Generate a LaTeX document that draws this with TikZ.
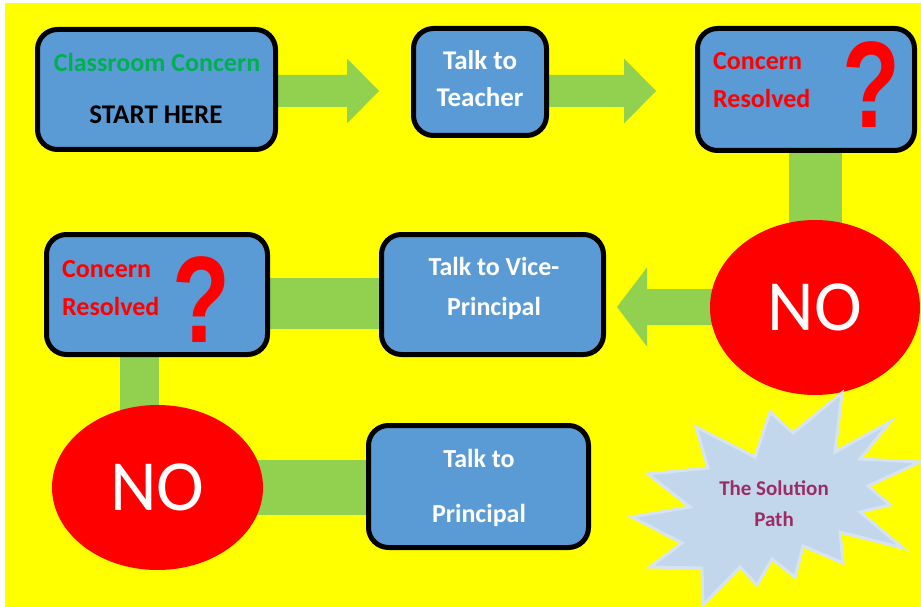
\documentclass[tikz,border=0pt]{standalone}
\usepackage{fontspec}
\setmainfont{Carlito}
\newfontfamily\qfont{Liberation Sans}
\usetikzlibrary{shapes.geometric,calc}
\definecolor{bgyellow}{HTML}{FFFF00}
\definecolor{boxblue}{HTML}{5B9BD5}
\definecolor{conngreen}{HTML}{92D050}
\definecolor{nored}{HTML}{FF0000}
\definecolor{titlegreen}{HTML}{00B050}
\definecolor{burstfill}{HTML}{C2D6EC}
\definecolor{burstline}{HTML}{D6E3F2}
\definecolor{pathtext}{HTML}{9B2D64}
\pgfdeclarelayer{bg}
\pgfsetlayers{bg,main}
\tikzset{
  stepbox/.style={draw=black, line width=5pt, fill=boxblue, rounded corners=20pt, inner sep=0pt},
  noblob/.style={ellipse, fill=nored, inner sep=0pt, text=white, font=\fontsize{72}{80}\selectfont},
  conn/.style={fill=conngreen},
  whitetxt/.style={text=white, font=\bfseries\fontsize{26}{30}\selectfont, inner sep=0pt, anchor=base},
  redtxt/.style={text=nored, font=\bfseries\fontsize{26}{30}\selectfont, inner sep=0pt, anchor=base west},
  qmark/.style={text=nored, font=\qfont\bfseries\fontsize{123}{130}\selectfont, inner sep=0pt, anchor=base},
  soltxt/.style={text=pathtext, font=\bfseries\fontsize{21}{25}\selectfont, inner sep=0pt, anchor=base},
}
\begin{document}
\begin{tikzpicture}[x=1pt,y=-1pt]
\useasboundingbox (0,0) rectangle (921,607);

% boxes
\node[stepbox, minimum width=238pt, minimum height=120pt] (b1) at (156.5,89.5) {};
\node[stepbox, minimum width=133pt, minimum height=107pt] (b2) at (480,82) {};
\node[stepbox, minimum width=217pt, minimum height=122pt] (b3) at (806,89.5) {};
\node[stepbox, minimum width=222pt, minimum height=120pt] (vp) at (492.5,294.5) {};
\node[stepbox, minimum width=221pt, minimum height=120pt] (cr2) at (157,294.5) {};
\node[stepbox, minimum width=220pt, minimum height=122pt] (p) at (478.5,486.5) {};

% NO ellipses
\node[noblob, minimum width=210pt, minimum height=175pt] (no1) at (815,307.5) {NO};
\node[noblob, minimum width=211pt, minimum height=165pt] (no2) at (157.5,487.5) {NO};

% starburst
\draw[fill=burstfill, draw=burstline, line width=3pt, line join=miter]
  (793,433) -- (842,393) -- (835,452) -- (890,422) -- (860,459) -- (920,462)
  -- (868,486) -- (890,505) -- (860,512) -- (903,548) -- (840,532) -- (843,563)
  -- (803,546) -- (795,577) -- (772,559) -- (757,585) -- (740,567) -- (703,605)
  -- (702,568) -- (650,567) -- (682,543) -- (632,517) -- (690,507) -- (648,474)
  -- (708,468) -- (696,427) -- (755,457) -- (770,412) -- cycle;
\node[soltxt] (sola) at (774,495) {The Solution};
\node[soltxt] (solb) at (774,526) {Path};

% texts
\node[text=titlegreen, font=\bfseries\fontsize{26}{30}\selectfont, inner sep=0pt, anchor=base] (t1a) at (157,72) {Classroom Concern};
\node[text=black, font=\bfseries\fontsize{27}{30}\selectfont, inner sep=0pt, anchor=base] (t1b) at (156,124) {START HERE};
\node[whitetxt, font=\bfseries\fontsize{27}{30}\selectfont] (t2a) at (480,70) {Talk to};
\node[whitetxt, font=\bfseries\fontsize{27}{30}\selectfont] (t2b) at (480,107) {Teacher};
\node[redtxt] (t3a) at (713,70) {Concern};
\node[redtxt] (t3b) at (713,108) {Resolved};
\node[qmark] (q1) at (871,128) {\scalebox{0.77}[1]{?}};
\node[whitetxt] (vpa) at (494,275) {Talk to Vice-};
\node[whitetxt] (vpb) at (494,315) {Principal};
\node[redtxt] (cra) at (62,277) {Concern};
\node[redtxt] (crb) at (62,315) {Resolved};
\node[qmark] (q2) at (201,342) {\scalebox{0.77}[1]{?}};
\node[whitetxt] (pa) at (479,467) {Talk to};
\node[whitetxt] (pb) at (479,522) {Principal};

\begin{pgfonlayer}{bg}
  \fill[bgyellow] (5,3) rectangle (921,607);
  \coordinate (a1) at (379,91);
  \coordinate (a2) at (656,91);
  \coordinate (a3) at (617,307);
  % start -> teacher
  \fill[conn] ($(b1.east|-a1)+(-3,-16)$) -- ($(a1)+(-32,-16)$) -- ($(a1)+(-32,-32.5)$) -- (a1)
    -- ($(a1)+(-32,32.5)$) -- ($(a1)+(-32,16)$) -- ($(b1.east|-a1)+(-3,16)$) -- cycle;
  % teacher -> resolved
  \fill[conn] ($(b2.east|-a2)+(-3,-16)$) -- ($(a2)+(-32,-16)$) -- ($(a2)+(-32,-32.5)$) -- (a2)
    -- ($(a2)+(-32,32.5)$) -- ($(a2)+(-32,16)$) -- ($(b2.east|-a2)+(-3,16)$) -- cycle;
  % resolved -> NO
  \fill[conn] ($(no1.center|-b3.south)+(-26.5,-3)$) rectangle ($(no1.center)+(26.5,0)$);
  % NO -> vice principal
  \fill[conn] ($(no1.center)+(0,-18)$) -- ($(a3)+(30,-18)$) -- ($(a3)+(30,-39.5)$) -- (a3)
    -- ($(a3)+(30,39.5)$) -- ($(a3)+(30,18)$) -- ($(no1.center)+(0,18)$) -- cycle;
  % vice principal -> resolved 2
  \fill[conn] ($(cr2.east)+(-3,-16.5)$) rectangle ($(vp.west)+(3,34.5)$);
  % resolved 2 -> NO 2
  \fill[conn] ($(cr2.south)+(-37,-3)$) rectangle ($(no2.center)+(1,0)$);
  % NO 2 -> principal
  \fill[conn] ($(no2.center)+(0,-28)$) rectangle ($(p.west)+(3,28)$);
\end{pgfonlayer}
\end{tikzpicture}
\end{document}
